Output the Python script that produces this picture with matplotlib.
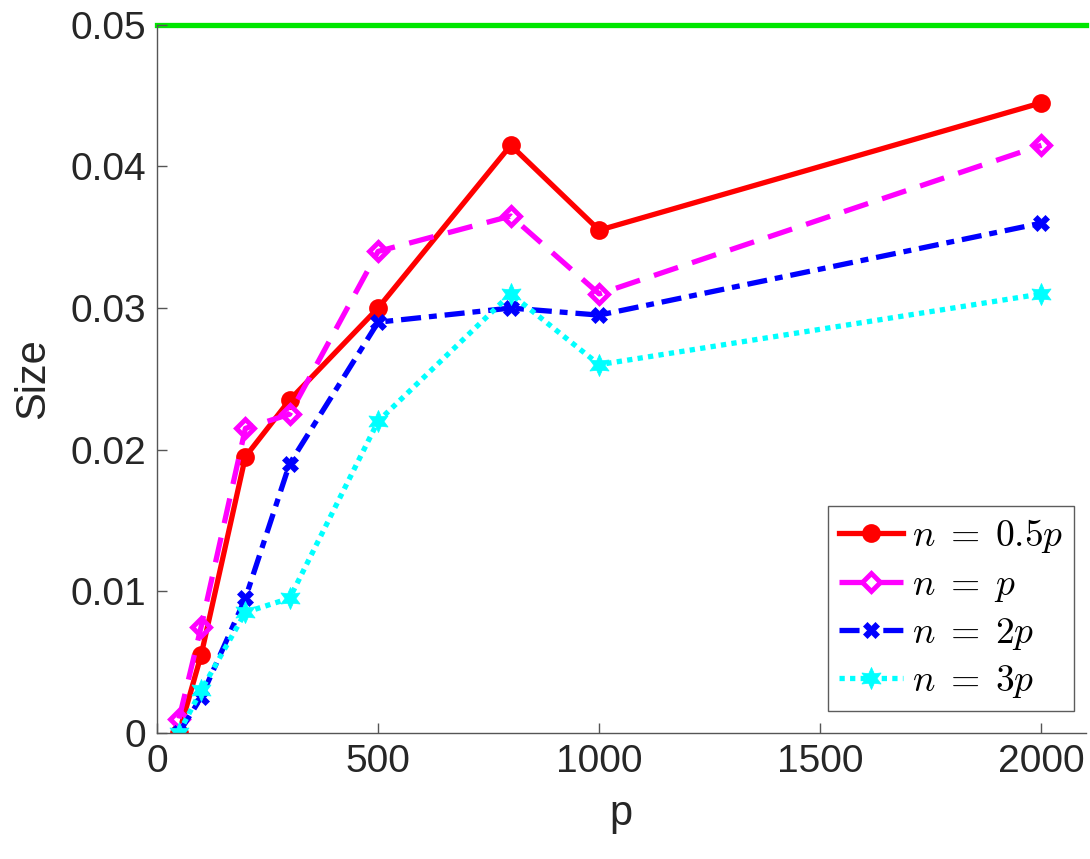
import matplotlib
matplotlib.use('Agg')
import matplotlib.pyplot as plt

# sample sizes p on the x axis
p = [50, 100, 200, 300, 500, 800, 1000, 2000]

# empirical size for each n/p ratio
size_05p = [0.0, 0.0055, 0.0195, 0.0235, 0.030, 0.0415, 0.0355, 0.0445]
size_1p = [0.001, 0.0075, 0.0215, 0.0225, 0.034, 0.0365, 0.031, 0.0415]
size_2p = [0.0, 0.0025, 0.0095, 0.019, 0.029, 0.030, 0.0295, 0.036]
size_3p = [0.0, 0.003, 0.0085, 0.0095, 0.022, 0.031, 0.026, 0.031]

nominal = 0.05
labels = [r'$n\;=\;0.5p$', r'$n\;=\;p$', r'$n\;=\;2p$', r'$n\;=\;3p$']

plt.rcParams['font.family'] = ['Liberation Sans', 'DejaVu Sans']
plt.rcParams['mathtext.fontset'] = 'cm'

fig = plt.figure(figsize=(10.9, 8.59), dpi=100)
ax = fig.add_axes([0.144, 0.147, 0.852, 0.824])

ax.axhline(nominal, color=(0, 0.9, 0), lw=3.8, zorder=1, clip_on=False)

ax.plot(p, size_05p, '-', color='red', lw=3.8, marker='o', ms=10, mew=3.5, mfc='red', label=labels[0])
ax.plot(p, size_1p, '--', color='magenta', lw=3.8, dashes=(4.8, 2.8), dash_capstyle='butt', marker='D', ms=9, mew=3.5, mfc='none', label=labels[1])
ax.plot(p, size_2p, '-.', color='blue', lw=3.8, dashes=(3.8, 1.5, 1.5, 1.5), marker='X', ms=11, mew=0.5, label=labels[2])
ax.plot(p, size_3p, ':', color='cyan', lw=3.8, dashes=(1, 1), dash_capstyle='butt', marker=(6, 1, 0), ms=16, mew=0.5, label=labels[3])

ax.set_xlim(0, 2100)
ax.set_ylim(0, 0.05)
ax.set_xticks([0, 500, 1000, 1500, 2000])
ax.set_yticks([0, 0.01, 0.02, 0.03, 0.04, 0.05])
ax.set_yticklabels(['0', '0.01', '0.02', '0.03', '0.04', '0.05'])

for s in ['top', 'right']:
	ax.spines[s].set_visible(False)
for s in ['left', 'bottom']:
	ax.spines[s].set_color('#555555')
	ax.spines[s].set_linewidth(1.0)

ax.tick_params(direction='in', length=7, width=1, colors='#555555', labelcolor='#262626', labelsize=28, pad=8)
ax.set_xlabel('p', fontsize=30, color='#262626', labelpad=10)
ax.set_ylabel('Size', fontsize=30, color='#262626', labelpad=12)

leg = ax.legend(loc='lower right', bbox_to_anchor=(0.988, 0.03), fontsize=27, frameon=True, fancybox=False,
	handlelength=1.7, handletextpad=0.25, borderpad=0.3, labelspacing=0.3, borderaxespad=0.0)
leg.get_frame().set_edgecolor('#333333')
leg.get_frame().set_linewidth(1.0)

fig.savefig('out.png', dpi=100)
